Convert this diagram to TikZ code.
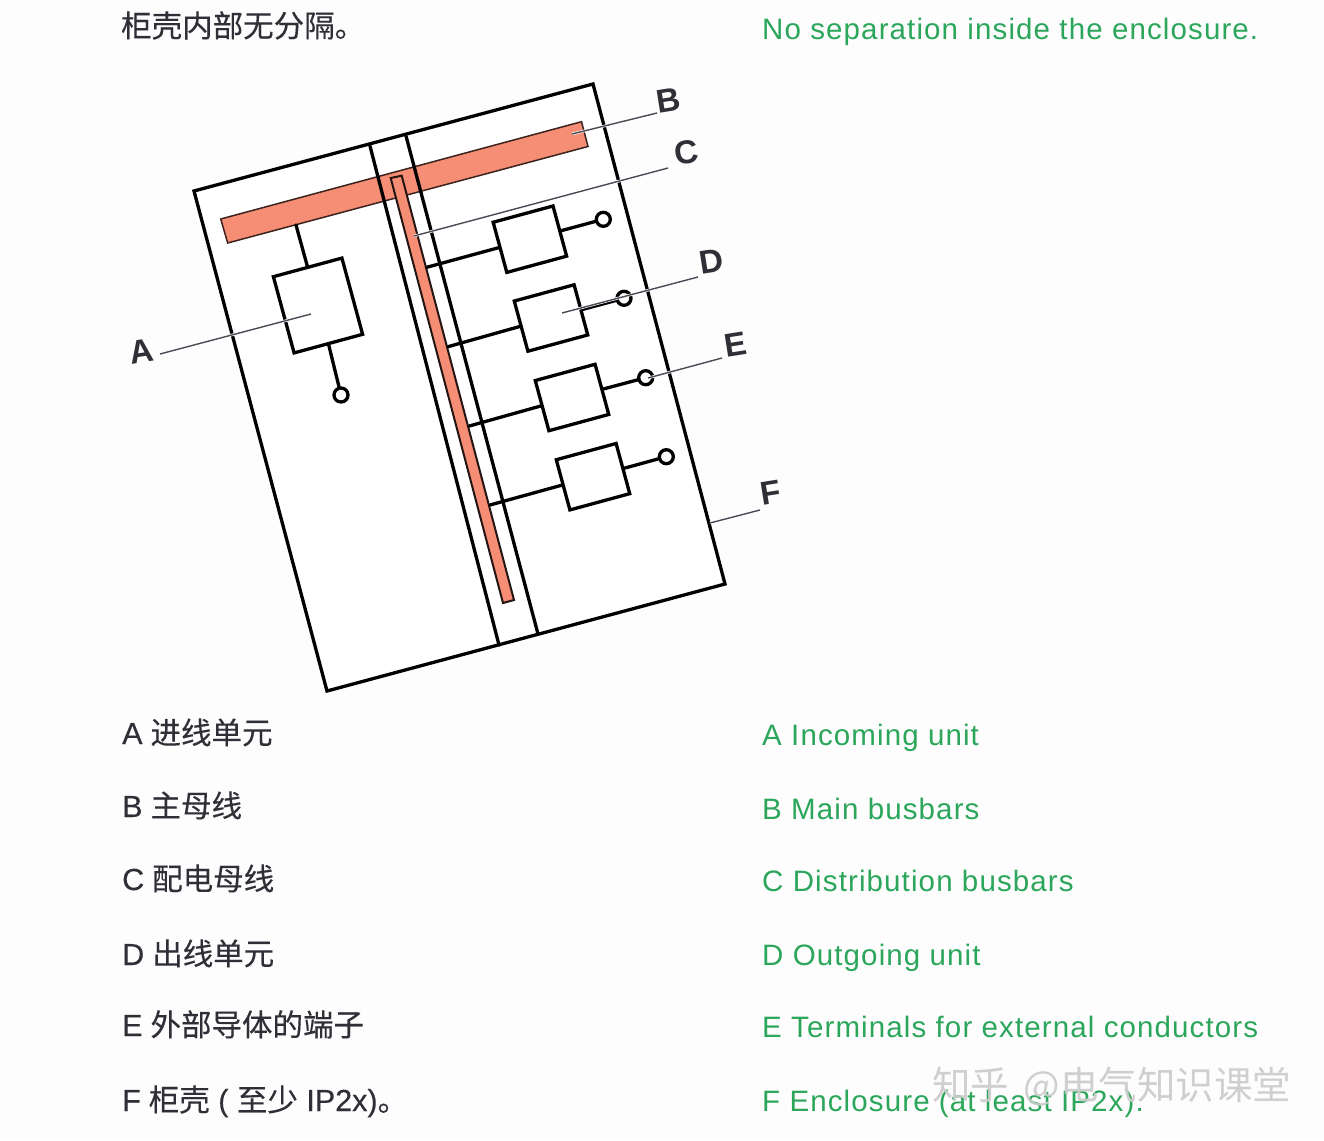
\documentclass[tikz,border=0pt]{standalone}
\usepackage{fontspec}
\setmainfont{Liberation Sans}
\newfontfamily\cjk[FakeBold=0.25]{Noto Sans CJK SC}
\newfontfamily\wmfont{Noto Sans CJK SC}
\newfontfamily\enfont[LetterSpace=3.8]{Liberation Sans}
\newfontfamily\zhlat[FakeBold=0.25]{Liberation Sans}
\definecolor{bgc}{HTML}{FDFDFD}
\definecolor{busc}{HTML}{F58E75}
\definecolor{zhc}{HTML}{2F2F37}
\definecolor{enc}{HTML}{2BA65A}
\definecolor{leadc}{HTML}{4A4A55}
\newcommand{\zh}[2]{{\fontsize{30.5}{34}\zhlat\selectfont #1\hspace{8pt}{\cjk #2}}}
\newcommand{\zhb}[1]{{\fontsize{30.5}{34}\selectfont\cjk #1}}
\tikzset{
  wire/.style={draw=black,line width=3.3pt,line cap=round},
  encl/.style={draw=black,line width=3.3pt,line join=miter},
  busbar/.style={draw=black!75!busc,fill=busc,line width=1.5pt},
  unitbox/.style={draw=black,fill=white,line width=3.3pt,rectangle,inner sep=0pt,rotate=15.2},
  term/.style={draw=black,fill=white,line width=3.3pt,circle,inner sep=0pt,minimum size=14pt},
  leader/.style={draw=leadc,line width=1.4pt},
  halo/.style={draw=white,line width=2.6pt},
  tag/.style={text=zhc,font=\fontsize{33}{33}\selectfont\bfseries,inner sep=0pt,rotate=9},
  zhtext/.style={text=zhc,anchor=base west,inner sep=0pt},
  entext/.style={text=enc,anchor=base west,inner sep=0pt,font=\fontsize{29.5}{33}\enfont\selectfont},
  water/.style={text=black!20,anchor=base west,inner sep=0pt,font=\fontsize{38.5}{40}\wmfont\selectfont,opacity=.92},
}
\begin{document}
\begin{tikzpicture}[x=1pt,y=-1pt]
\useasboundingbox (0,0) rectangle (1324,1140);
\fill[bgc] (0,0) rectangle (1324,1140);
% enclosure
\coordinate (e1) at (194,191);
\coordinate (e2) at (593,84);
\coordinate (e3) at (725,584);
\coordinate (e4) at (327,691);
\draw[encl,fill=white] (e1) -- (e2) -- (e3) -- (e4) -- cycle;
% main bus
\draw[busbar] (220.7,219) -- (581.5,121.7) -- (588,146.5) -- (227.7,243) -- cycle;
% dividers
\coordinate (d1t) at (370,146);
\coordinate (d1b) at (499,645);
\coordinate (d2t) at (406,136);
\coordinate (d2b) at (538,634);
\draw[wire] (d1t) -- (d1b);
\draw[wire] (d2t) -- (d2b);
% distribution bus
\draw[busbar,draw=black!85!busc,line width=2pt] (390.7,178) -- (401.7,175.7) -- (514,600) -- (503,603) -- cycle;
% incoming unit
\node[unitbox,minimum width=71pt,minimum height=79pt] (boxA) at (318,305.5) {};
\node[term] (termA) at (341,395) {};
\coordinate (busA) at (296,225);
\draw[wire] (busA) -- (boxA.north);
\draw[wire] (boxA.south) -- (termA);
% outgoing units
\node[unitbox,minimum width=62pt,minimum height=52pt] (box1) at (529.9,239.2) {};
\node[unitbox,minimum width=62pt,minimum height=52pt] (box2) at (551,318) {};
\node[unitbox,minimum width=62pt,minimum height=52pt] (box3) at (572,397.5) {};
\node[unitbox,minimum width=62pt,minimum height=52pt] (box4) at (593,476.7) {};
\node[term] (term1) at (603.3,219.3) {};
\node[term] (term2) at (624,298.3) {};
\node[term] (term3) at (645.7,377.7) {};
\node[term] (term4) at (666.3,456.7) {};
\coordinate (bus1) at (426.7,267.3);
\coordinate (bus2) at (448,346.7);
\coordinate (bus3) at (469.3,426);
\coordinate (bus4) at (490,505);
\foreach \i in {1,2,3,4}{
  \draw[wire] (bus\i) -- (box\i.west);
  \draw[wire] (box\i.east) -- (term\i);
}
% tags
\node[tag] (tA) at (141,351) {A};
\node[tag] (tB) at (668,100) {B};
\node[tag] (tC) at (686,152) {C};
\node[tag] (tD) at (711,261) {D};
\node[tag] (tE) at (736,345) {E};
\node[tag] (tF) at (771,493) {F};
% leader lines
\coordinate (lA1) at (160,354); \coordinate (lA2) at (311,314);
\coordinate (lB1) at (572,134); \coordinate (lB2) at (657,113);
\coordinate (lC1) at (414,236); \coordinate (lC2) at (668,168);
\coordinate (lD1) at (562,313); \coordinate (lD2) at (698,277);
\coordinate (lE1) at (648,378); \coordinate (lE2) at (722,358);
\coordinate (lF1) at (710,523); \coordinate (lF2) at (760,510);
\foreach \n in {A,B,C,D,E,F}{
  \draw[halo] (l\n1) -- (l\n2);
  \draw[leader] (l\n1) -- (l\n2);
}
% texts
\node[zhtext] (h1) at (121,37) {\zhb{柜壳内部无分隔。}};
\node[entext] (h2) at (762,40) {No separation inside the enclosure.};
\node[zhtext] (za) at (122,744) {\zh{A}{进线单元}};
\node[zhtext] (zb) at (122,817) {\zh{B}{主母线}};
\node[zhtext] (zc) at (122,890) {\zh{C}{配电母线}};
\node[zhtext] (zd) at (122,965) {\zh{D}{出线单元}};
\node[zhtext] (ze) at (122,1036) {\zh{E}{外部导体的端子}};
\node[zhtext] (zf) at (122,1111) {{\fontsize{30.5}{34}\zhlat\selectfont F\hspace{8pt}{\cjk 柜壳} ( {\cjk 至少} IP2x){\cjk 。}}};
\node[entext] (ea) at (762,745) {A Incoming unit};
\node[entext] (eb) at (762,819) {B Main busbars};
\node[entext] (ec) at (762,891) {C Distribution busbars};
\node[entext] (ed) at (762,965) {D Outgoing unit};
\node[entext] (ee) at (762,1037) {E Terminals for external conductors};
\node[entext] (ef) at (762,1111) {F Enclosure (at least IP2x).};
\node[water] (wm) at (932,1099) {知乎\hspace{6pt} @电气知识课堂};
\end{tikzpicture}
\end{document}
